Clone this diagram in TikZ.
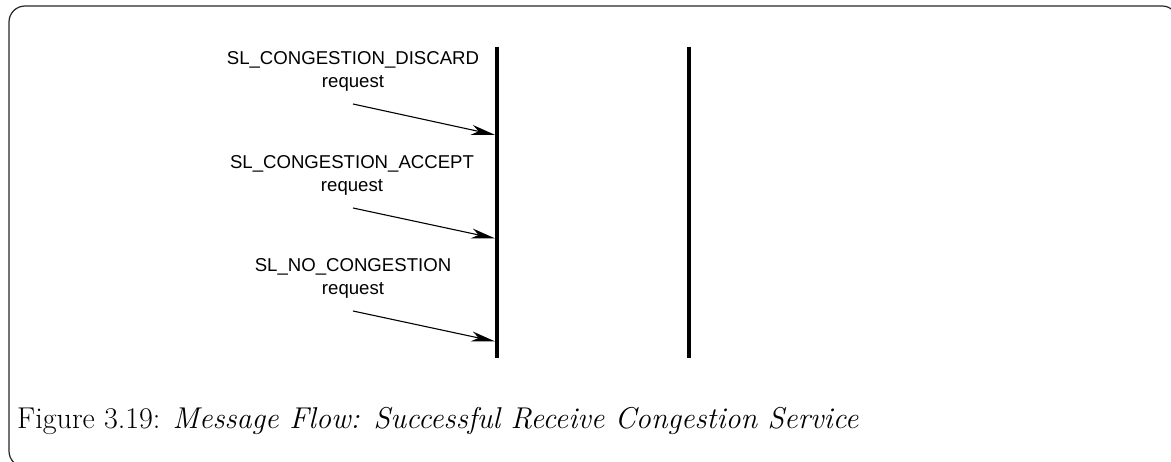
\documentclass[tikz,border=0pt]{standalone}
\usepackage{fontspec}
\newfontfamily\labelfont{Liberation Sans}
\usetikzlibrary{arrows.meta}
\begin{document}
\begin{tikzpicture}[x=1pt,y=-1pt,
  lifeline/.style={line width=3.4pt,line cap=butt},
  msg/.style={line width=1.1pt,-{Stealth[length=24pt,width=10pt,inset=7pt]}},
  msglabel/.style={font=\labelfont\fontsize{18.6}{23.4}\selectfont,align=center,anchor=base,inner sep=0pt},
  frame/.style={line width=1.2pt,draw=black!85,rounded corners=16pt}]
\useasboundingbox (0,0) rectangle (1171,462);
\begin{scope}
  \clip (0,0) rectangle (1171,462);
  \draw[frame] (9,6) rectangle (1178,467);
\end{scope}

% lifelines
\coordinate (lA top) at (497,47);
\coordinate (lA bot) at (497,358);
\coordinate (lB top) at (689,47);
\coordinate (lB bot) at (689,358);
\draw[lifeline] (lA top) -- (lA bot);
\draw[lifeline] (lB top) -- (lB bot);

% messages (base anchor sits on the last line)
\node[msglabel] (m1) at (353,88) {SL\_CONGESTION\_DISCARD\\request};
\node[msglabel] (m2) at (352,192) {SL\_CONGESTION\_ACCEPT\\request};
\node[msglabel] (m3) at (353,295) {SL\_NO\_CONGESTION\\request};

\coordinate (s1) at (353,104);
\coordinate (e1) at (495.3,135);
\coordinate (s2) at (353,208);
\coordinate (e2) at (495.3,238.5);
\coordinate (s3) at (353,311);
\coordinate (e3) at (495.3,341.5);
\draw[msg] (s1) -- (e1);
\draw[msg] (s2) -- (e2);
\draw[msg] (s3) -- (e3);

% caption
\node[anchor=base west,inner sep=0pt,font=\fontsize{30.1}{33}\selectfont] (cap) at (17,429)
  {Figure 3.19: \textit{Message Flow: Successful Receive Congestion Service}};
\end{tikzpicture}
\end{document}
